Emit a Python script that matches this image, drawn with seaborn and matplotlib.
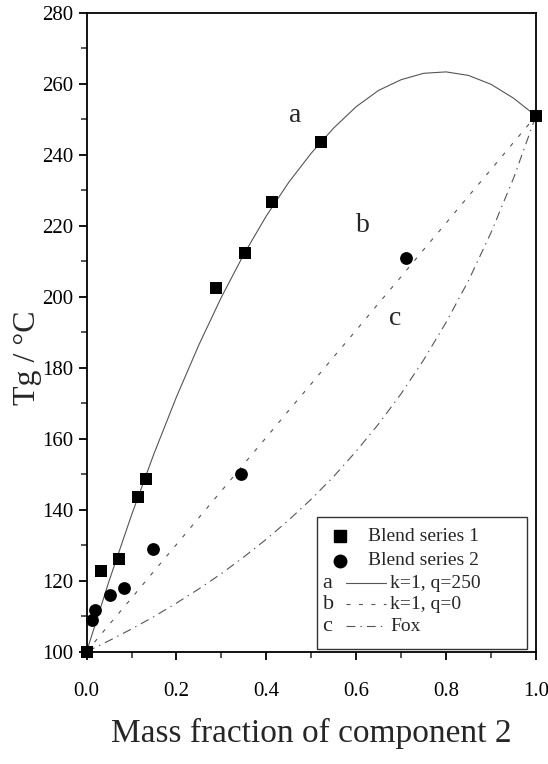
import numpy as np
import pandas as pd
import seaborn as sns
from matplotlib import pyplot as plt
from matplotlib.ticker import MultipleLocator
from matplotlib.patches import Rectangle

# measured points
sq_x = [0.0, 0.032, 0.072, 0.114, 0.132, 0.288, 0.353, 0.412, 0.522, 1.0]
sq_y = [100.0, 122.8, 126.2, 143.7, 148.6, 202.5, 212.4, 226.8, 243.6, 251.1]
ci_x = [0.013, 0.019, 0.052, 0.084, 0.147, 0.344, 0.710]
ci_y = [108.8, 111.8, 116.0, 118.0, 128.8, 150.0, 211.0]

# fitted curves
fx = [0.0, 0.05, 0.10, 0.15, 0.20, 0.25, 0.30, 0.35, 0.40, 0.45, 0.50,
      0.55, 0.60, 0.65, 0.70, 0.75, 0.80, 0.85, 0.90, 0.95, 1.0]
curve_a = [100.0, 119.9, 138.5, 155.8, 171.8, 186.5, 199.9, 212.0, 222.8, 232.3, 240.5,
           247.6, 253.6, 258.2, 261.2, 263.0, 263.4, 262.4, 259.9, 256.0, 251.0]
curve_b = [100.0, 107.6, 115.1, 122.7, 130.2, 137.8, 145.3, 152.9, 160.4, 168.0, 175.5,
           183.1, 190.6, 198.2, 205.7, 213.3, 220.8, 228.4, 235.9, 243.5, 251.0]
curve_c = [100.0, 103.1, 106.4, 109.9, 113.7, 117.7, 122.0, 126.7, 131.7, 137.1, 143.0,
           149.4, 156.5, 164.2, 172.7, 182.2, 192.8, 204.6, 218.1, 233.4, 251.0]

series_labels = ['Blend series 1', 'Blend series 2']
curve_names = ['a', 'b', 'c']
curve_labels = ['k=1, q=250', 'k=1, q=0', 'Fox']
xticks = [0.0, 0.2, 0.4, 0.6, 0.8, 1.0]
yticks = [100, 120, 140, 160, 180, 200, 220, 240, 260, 280]

sns.set_style("ticks")
plt.rcParams['font.family'] = ['Liberation Serif', 'DejaVu Serif']
plt.rcParams['axes.linewidth'] = 1.3

fig = plt.figure(figsize=(5.48, 7.64), dpi=100)
ax = fig.add_axes([0.158, 0.147, 0.820, 0.836])

lc = '#555555'
styles = ['-', (0, (3.6, 7.6)), (0, (8, 4.5, 1.3, 4.5))]
curves = pd.DataFrame({'x': fx, 'a': curve_a, 'b': curve_b, 'c': curve_c})
for name, ls in zip(curve_names, styles):
    sns.lineplot(data=curves, x='x', y=name, ax=ax, color=lc, lw=0.8, linestyle=ls)

pts1 = pd.DataFrame({'x': sq_x, 'y': sq_y})
pts2 = pd.DataFrame({'x': ci_x, 'y': ci_y})
sns.scatterplot(data=pts1, x='x', y='y', ax=ax, marker='s', s=70, color='black',
                edgecolor='black', linewidth=0, zorder=5, clip_on=False)
sns.scatterplot(data=pts2, x='x', y='y', ax=ax, marker='o', s=85, color='black',
                edgecolor='black', linewidth=0, zorder=5, clip_on=False)

# curve labels on the plot
ax.text(0.464, 251, 'a', fontsize=20, ha='center', va='center')
ax.text(0.614, 220, 'b', fontsize=20, ha='center', va='center')
ax.text(0.687, 194, 'c', fontsize=20, ha='center', va='center')

ax.set_xlim(0, 1)
ax.set_ylim(100, 280)
ax.set_xticks(xticks)
ax.set_xticklabels([f'{v:.1f}' for v in xticks])
ax.set_yticks(yticks)
ax.set_yticklabels([str(v) for v in yticks])
ax.xaxis.set_minor_locator(MultipleLocator(0.1))
ax.yaxis.set_minor_locator(MultipleLocator(10))
ax.tick_params(which='major', direction='out', length=6, width=1.3, labelsize=15, colors='black')
ax.tick_params(axis='x', which='major', pad=16)
ax.tick_params(which='minor', direction='out', length=4, width=1.1)
for s in ax.spines.values():
    s.set_visible(True)
    s.set_color('black')

ax.set_xlabel('Mass fraction of component 2', fontsize=24, labelpad=12)
ax.set_ylabel('Tg / °C', fontsize=23)
ax.yaxis.set_label_coords(-0.10, 0.46)

# legend box drawn by hand
T = ax.transAxes
ax.add_patch(Rectangle((0.513, 0.004), 0.467, 0.207, transform=T, fill=True,
                       facecolor='white', edgecolor='#333333', lw=1.0, zorder=6))
rows = [0.181, 0.142, 0.1075, 0.0746, 0.040]
ax.plot([0.564], [rows[0]], 's', ms=8, color='black', transform=T, zorder=7)
ax.plot([0.564], [rows[1]], 'o', ms=9, color='black', transform=T, zorder=7)
for r, lab in zip(rows[:2], series_labels):
    ax.text(0.626, r, lab, transform=T, fontsize=14, va='center', zorder=7)
for r, nm, ls, lab in zip(rows[2:], curve_names, styles, curve_labels):
    ax.text(0.525, r, nm, transform=T, fontsize=16, va='center', zorder=7)
    ax.plot([0.577, 0.666], [r, r], color=lc, lw=0.8, linestyle=ls, transform=T, zorder=7)
    ax.text(0.675, r, lab, transform=T, fontsize=14, va='center', zorder=7)

fig.savefig('out.png', dpi=100)
